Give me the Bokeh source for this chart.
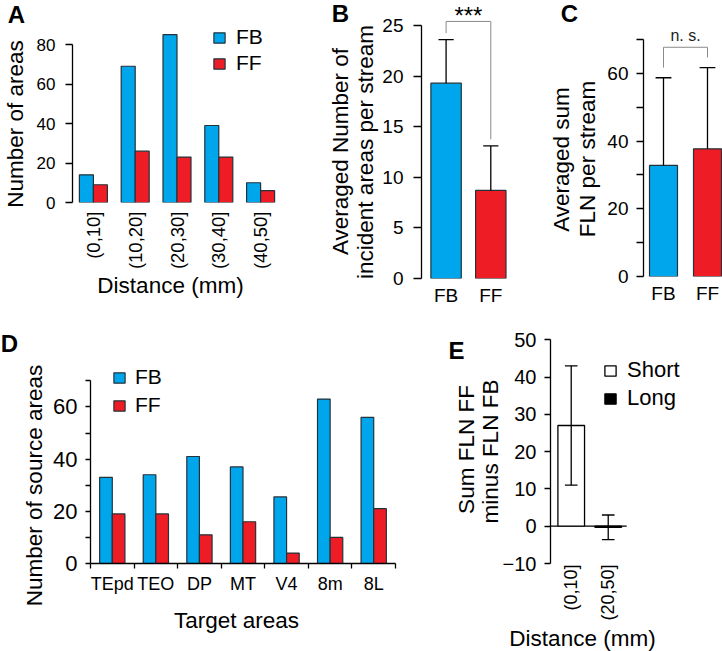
import numpy as np
from math import pi
from bokeh.plotting import figure
from bokeh.models import Range1d, FixedTicker, Label, Legend, LegendItem, GridBox
from bokeh.layouts import row, column
from bokeh.embed import file_html
from bokeh.resources import INLINE

FONT = "Liberation Sans"
BLUE = "#00A6EC"
RED = "#EE1C24"
EDGE = "#24323a"

# ---------------- data ----------------
dist_bins = ["(0,10]", "(10,20]", "(20,30]", "(30,40]", "(40,50]"]
a_fb = [14, 69, 85, 39, 10]
a_ff = [9, 26, 23, 23, 6]

streams = ["FB", "FF"]
b_mean = [19.3, 8.7]
b_err = [4.3, 4.4]
b_sig = "***"

c_mean = [32.8, 37.7]
c_err = [25.9, 24.0]
c_sig = "n. s."

targets = ["TEpd", "TEO", "DP", "MT", "V4", "8m", "8L"]
d_fb = [33, 34, 41, 37, 25.5, 63, 56]
d_ff = [19, 19, 11, 16, 4, 10, 21]

e_bins = ["(0,10]", "(20,50]"]
e_groups = ["Short", "Long"]
e_mean = [27, -0.3]
e_err = [16, 3.3]

panel_letters = ["A", "B", "C", "D", "E"]
a_xlabel, a_ylabel = "Distance (mm)", "Number of areas"
b_ylabel = ["Averaged Number of", "incident areas per stream"]
c_ylabel = ["Averaged sum", "FLN per stream"]
d_xlabel, d_ylabel = "Target areas", "Number of source areas"
e_xlabel, e_ylabel = "Distance (mm)", ["Sum FLN FF", "minus FLN FB"]


# ---------------- helpers ----------------
def make_fig(x0, y0, w, h, fl, fr, ft, fb, xs, ux, ys, uy):
    xe = xs + (fr - fl) / ux
    ye = ys + (fb - ft) / uy
    p = figure(width=w, height=h, x_range=Range1d(xs, xe), y_range=Range1d(ys, ye),
               output_backend="svg", toolbar_location=None,
               min_border_left=int(round(fl - x0)), min_border_right=int(round(x0 + w - fr)),
               min_border_top=int(round(ft - y0)), min_border_bottom=int(round(y0 + h - fb)))
    p.frame_align = False
    p.outline_line_color = None
    p.xgrid.visible = False
    p.ygrid.visible = False
    p.background_fill_color = "white"
    p.border_fill_color = "white"
    g = dict(dx=lambda px: xs + (px - fl) / ux, dy=lambda py: ys + (fb - py) / uy)
    return p, g


def style_y(ax, ticks, bounds, size, labeled=None, tick_out=7, standoff=8):
    ax.ticker = FixedTicker(ticks=ticks)
    ax.bounds = bounds
    ax.axis_line_color = "black"
    ax.axis_line_width = 1.3
    ax.major_tick_line_color = "black"
    ax.major_tick_line_width = 1.3
    ax.major_tick_in = 0
    ax.major_tick_out = tick_out
    ax.minor_tick_line_color = None
    ax.minor_tick_out = 0
    ax.major_label_text_font = FONT
    ax.major_label_text_font_size = f"{size}px"
    ax.major_label_text_color = "black"
    ax.major_label_standoff = standoff
    if labeled is not None:
        ax.major_label_overrides = {t: (str(t) if t in labeled else "") for t in ticks}


def style_x_cat(ax, labels, size, vertical=False, standoff=8):
    ax.ticker = FixedTicker(ticks=list(range(len(labels))))
    ax.major_label_overrides = {i: s for i, s in enumerate(labels)}
    ax.axis_line_color = None
    ax.major_tick_line_color = None
    ax.major_tick_out = 0
    ax.minor_tick_line_color = None
    ax.minor_tick_out = 0
    ax.major_label_text_font = FONT
    ax.major_label_text_font_size = f"{size}px"
    ax.major_label_text_color = "black"
    ax.major_label_standoff = standoff
    if vertical:
        ax.major_label_orientation = pi / 2


def make_legend(items, x, y, size, spacing, standoff):
    return Legend(items=items, location=(x, y), orientation="vertical",
                  background_fill_alpha=0, border_line_color=None, padding=0, margin=0,
                  spacing=spacing, glyph_width=14, glyph_height=13, label_standoff=standoff,
                  label_text_font=FONT, label_text_font_size=f"{size}px", label_height=13,
                  label_text_color="black")


# ---------------- Panel A ----------------
pA, gA = make_fig(0, 0, 300, 330, 72, 281, 0, 202, -0.5, 41.8, 0, 1.975)
xa = np.arange(len(dist_bins))
bw = 0.335
rA1 = pA.vbar(x=xa - bw / 2, top=a_fb, width=bw, fill_color=BLUE, line_color=EDGE, line_width=1.2)
rA2 = pA.vbar(x=xa + bw / 2, top=a_ff, width=bw, fill_color=RED, line_color=EDGE, line_width=1.2)
style_y(pA.yaxis[0], [0, 20, 40, 60, 80], (0, 80), 17, standoff=10)
style_x_cat(pA.xaxis[0], dist_bins, 18.5, vertical=True, standoff=9)
pA.add_layout(make_legend([LegendItem(label="FB", renderers=[rA1]),
                           LegendItem(label="FF", renderers=[rA2])],
                          140, 127, 21, 2, 10))

# ---------------- Panel B ----------------
pB, gB = make_fig(300, 0, 235, 330, 421, 517, 0, 278, -0.55, 44.7, 0, 10.12)
xb = np.arange(len(streams))
pB.vbar(x=xb, top=b_mean, width=0.68, fill_color=[BLUE, RED], line_color=EDGE, line_width=1.2)
b_top = np.array(b_mean) + np.array(b_err)
pB.segment(x0=xb, y0=b_mean, x1=xb, y1=b_top, line_color="black", line_width=1.3)
pB.segment(x0=xb - 0.17, y0=b_top, x1=xb + 0.17, y1=b_top, line_color="black", line_width=1.3)
b_leg = b_top + 0.65
b_bt = b_top.max() + 1.8
pB.line(x=[xb[0], xb[0], xb[1], xb[1]], y=[b_leg[0], b_bt, b_bt, b_leg[1]],
        line_color="#8a8a8a", line_width=1)
pB.add_layout(Label(x=(xb[0] + xb[1]) / 2, y=gB["dy"](15), text=b_sig, text_font=FONT,
                    text_font_size="24px", text_align="center", text_baseline="middle",
                    text_color="black"))
style_y(pB.yaxis[0], [0, 5, 10, 15, 20, 25], (0, 25), 19, tick_out=8, standoff=10)
style_x_cat(pB.xaxis[0], streams, 19, standoff=6)

# ---------------- Panel C ----------------
pC, gC = make_fig(535, 0, 187, 330, 643, 722, 0, 276, -0.4545, 44, 0, 3.386)
xc = np.arange(len(streams))
pC.vbar(x=xc, top=c_mean, width=0.636, fill_color=[BLUE, RED], line_color=EDGE, line_width=1.2)
c_top = np.array(c_mean) + np.array(c_err)
pC.segment(x0=xc, y0=c_mean, x1=xc, y1=c_top, line_color="black", line_width=1.3)
pC.segment(x0=xc - 0.18, y0=c_top, x1=xc + 0.18, y1=c_top, line_color="black", line_width=1.3)
c_leg = c_top + 3
c_bt = c_top.max() + 6
pC.line(x=[xc[0], xc[0], xc[1], xc[1]], y=[c_leg[0], c_bt, c_bt, c_leg[1]],
        line_color="#8a8a8a", line_width=1)
pC.add_layout(Label(x=(xc[0] + xc[1]) / 2, y=c_bt, y_offset=3, text=c_sig, text_font=FONT,
                    text_font_size="16px", text_align="center", text_baseline="bottom",
                    text_color="#222222"))
style_y(pC.yaxis[0], [0, 10, 20, 30, 40, 50, 60, 70], (0, 70), 19, labeled=[0, 20, 40, 60],
        tick_out=7, standoff=8)
style_x_cat(pC.xaxis[0], streams, 19, standoff=6)

# ---------------- Panel D ----------------
pD, gD = make_fig(0, 330, 430, 321, 90, 395, 330, 563, -0.5, 305 / 7, 0, 2.61)
xd = np.arange(len(targets))
bwd = 0.29
rD1 = pD.vbar(x=xd - bwd / 2, top=d_fb, width=bwd, fill_color=BLUE, line_color=EDGE, line_width=1.2)
rD2 = pD.vbar(x=xd + bwd / 2, top=d_ff, width=bwd, fill_color=RED, line_color=EDGE, line_width=1.2)
style_y(pD.yaxis[0], [0, 10, 20, 30, 40, 50, 60, 70], (0, 70), 22, labeled=[0, 20, 40, 60],
        tick_out=5, standoff=8)
axd = pD.xaxis[0]
axd.ticker = FixedTicker(ticks=list(xd), minor_ticks=list(np.arange(len(targets) + 1) - 0.5))
axd.major_label_overrides = {int(i): s for i, s in enumerate(targets)}
axd.axis_line_color = "black"
axd.axis_line_width = 1.3
axd.major_tick_line_color = None
axd.major_tick_out = 5
axd.minor_tick_line_color = "black"
axd.minor_tick_line_width = 1.3
axd.minor_tick_in = 0
axd.minor_tick_out = 5
axd.major_label_text_font = FONT
axd.major_label_text_font_size = "18px"
axd.major_label_text_color = "black"
axd.major_label_standoff = 5
pD.add_layout(make_legend([LegendItem(label="FB", renderers=[rD1]),
                           LegendItem(label="FF", renderers=[rD2])],
                          22, 146, 21, 4, 9))

# ---------------- Panel E ----------------
pE, gE = make_fig(430, 330, 292, 321, 550, 700, 330, 563, -0.56, 37, -10, 3.73)
xe = np.arange(len(e_bins))
pE.segment(x0=pE.x_range.start, y0=0, x1=len(e_bins) - 0.5, y1=0, line_color="black",
           line_width=1.3)
rE = pE.vbar(x=xe, top=e_mean, width=0.72, fill_color=["white", "black"], line_color="black",
             line_width=1.3)
e_lo = np.array(e_mean) - np.array(e_err)
e_hi = np.array(e_mean) + np.array(e_err)
pE.segment(x0=xe, y0=e_lo, x1=xe, y1=e_hi, line_color="black", line_width=1.3)
pE.segment(x0=xe - 0.17, y0=e_lo, x1=xe + 0.17, y1=e_lo, line_color="black", line_width=1.3)
pE.segment(x0=xe - 0.17, y0=e_hi, x1=xe + 0.17, y1=e_hi, line_color="black", line_width=1.3)
style_y(pE.yaxis[0], [-10, 0, 10, 20, 30, 40, 50], (-10, 50), 20, tick_out=6, standoff=8)
style_x_cat(pE.xaxis[0], e_bins, 18, vertical=True, standoff=1)
pE.add_layout(make_legend([LegendItem(label=e_groups[0], renderers=[rE], index=0),
                           LegendItem(label=e_groups[1], renderers=[rE], index=1)],
                          53, 152, 22, 2, 10))

# ---------------- text overlay (titles and panel letters) ----------------
ov = figure(width=722, height=651, x_range=Range1d(0, 722), y_range=Range1d(651, 0),
            output_backend="svg", toolbar_location=None, min_border=0,
            x_axis_type=None, y_axis_type=None)
ov.frame_align = False
ov.background_fill_color = None
ov.border_fill_color = None
ov.outline_line_color = None


def txt(px, py, text, size=22.5, angle=0.0, bold=False):
    ov.add_layout(Label(x=px, y=py, text=text, text_font=FONT, text_font_size=f"{size}px",
                        text_font_style="bold" if bold else "normal", text_color="black",
                        text_align="center", text_baseline="middle", angle=angle))


for (lx, ly), s in zip([(16, 13.5), (340, 12.5), (569, 12.5), (9, 343), (456, 350)], panel_letters):
    txt(lx, ly, s, size=24, bold=True)
txt(14.5, 123.5, a_ylabel, angle=pi / 2)
txt(170, 285, a_xlabel)
txt(339.5, 151, b_ylabel[0], angle=pi / 2)
txt(364.5, 151.5, b_ylabel[1], angle=pi / 2)
txt(561, 159, c_ylabel[0], angle=pi / 2)
txt(586.5, 158.5, c_ylabel[1], angle=pi / 2)
txt(33.5, 485, d_ylabel, angle=pi / 2)
txt(236, 620, d_xlabel)
txt(465.5, 449, e_ylabel[0], angle=pi / 2)
txt(490, 451, e_ylabel[1], angle=pi / 2)
txt(582, 637.5, e_xlabel)

main = column(row(pA, pB, pC), row(pD, pE))
layout = GridBox(children=[(main, 0, 0), (ov, 0, 0)])
open("out.html", "w").write(file_html(layout, INLINE))
